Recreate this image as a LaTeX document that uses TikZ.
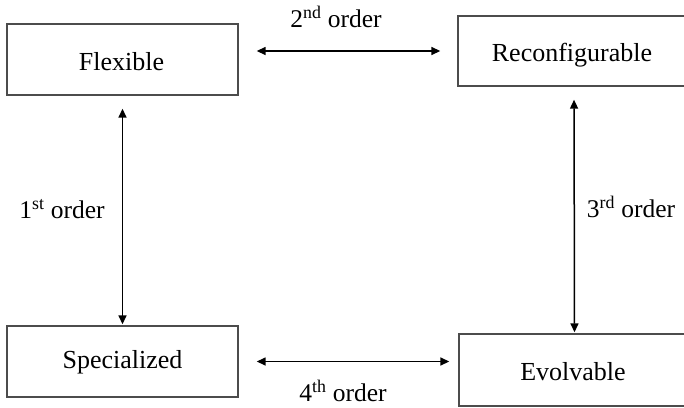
\documentclass[tikz,border=0pt]{standalone}
\usepackage{fontspec}
\setmainfont{Liberation Serif}
\usetikzlibrary{arrows.meta}
\begin{document}
\begin{tikzpicture}[x=1pt,y=-1pt,
  box/.style={draw=black!70,line width=1.4pt,rectangle,inner sep=0pt},
  boxtext/.style={inner sep=0pt,font=\fontsize{26}{30}\selectfont},
  link/.style={line width=1.5pt,{Triangle[length=9pt,width=8pt]}-{Triangle[length=9pt,width=8pt]}},
  lbl/.style={inner sep=0pt,font=\fontsize{25.5}{30}\selectfont}]
\useasboundingbox (0,0) rectangle (684,407);
% the four system classes
\node[box,minimum width=231pt,minimum height=71pt] (flex) at (122.5,59.5) {};
\node[boxtext] (flext) at (121.5,62) {Flexible};
\node[box,minimum width=232pt,minimum height=70pt] (reconf) at (574,51) {};
\node[boxtext] (reconft) at (572,55) {Reconfigurable};
\node[box,minimum width=231pt,minimum height=71pt] (spec) at (122.5,361.5) {};
\node[boxtext] (spect) at (122.5,362) {Specialized};
\node[box,minimum width=231pt,minimum height=72pt] (evol) at (574.5,370) {};
\node[boxtext] (evolt) at (573,372) {Evolvable};
% transitions between them
\draw[link,shorten <=13pt,shorten >=1pt] (flex.south) -- (spec.north);
\draw[link,shorten <=13pt,shorten >=1pt] (reconf.south) -- (evol.north);
\draw[link,shorten <=18pt,shorten >=17pt] (reconf.west -| flex.east) -- (reconf.west);
\draw[link,shorten <=18pt,shorten >=9pt] (spec.east) -- (spec.east -| evol.west);
% order labels
\node[lbl] (o2) at (336,17) {2\textsuperscript{nd} order};
\node[lbl] (o1) at (62,209) {1\textsuperscript{st} order};
\node[lbl] (o3) at (631,207) {3\textsuperscript{rd} order};
\node[lbl] (o4) at (343,391) {4\textsuperscript{th} order};
\end{tikzpicture}
\end{document}
